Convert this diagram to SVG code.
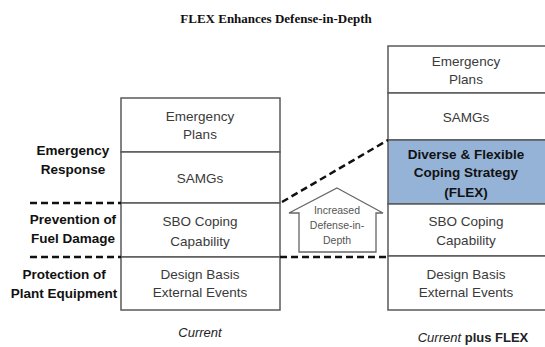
<svg xmlns="http://www.w3.org/2000/svg" width="545" height="347" viewBox="0 0 545 347">
<style>
.box{fill:#fff;stroke:#5a5a5a;stroke-width:1.5}
.flex{fill:#95b3d7;stroke:#5a5a5a;stroke-width:1.5}
.t{font-family:"Liberation Sans",Arial,sans-serif;font-size:13.5px;fill:#3a3a3a;text-anchor:middle}
.b{font-family:"Liberation Sans",Arial,sans-serif;font-size:13.5px;font-weight:bold;fill:#111;text-anchor:middle}
.i{font-family:"Liberation Sans",Arial,sans-serif;font-size:13px;font-style:italic;fill:#222;text-anchor:middle}
.s{font-family:"Liberation Sans",Arial,sans-serif;font-size:10.5px;fill:#555;text-anchor:middle}
.d{stroke:#111;stroke-width:2.5;stroke-dasharray:7,4;fill:none}
</style>
<rect width="545" height="347" fill="#fff"/>
<text x="276" y="23" font-family="Liberation Serif,'Times New Roman',serif" font-size="13" font-weight="bold" fill="#111" text-anchor="middle">FLEX Enhances Defense-in-Depth</text>

<g id="labels">
<text class="b" x="73" y="155">Emergency</text>
<text class="b" x="73" y="174">Response</text>
<text class="b" x="73" y="224">Prevention of</text>
<text class="b" x="73" y="243">Fuel Damage</text>
<text class="b" x="64" y="279">Protection of</text>
<text class="b" x="64" y="298">Plant Equipment</text>
</g>

<g id="current">
<rect class="box" x="121" y="98" width="159" height="54"/>
<text class="t" x="200" y="121">Emergency</text>
<text class="t" x="200" y="139">Plans</text>
<rect class="box" x="121" y="152" width="159" height="51"/>
<text class="t" x="200" y="183">SAMGs</text>
<rect class="box" x="121" y="203" width="159" height="54"/>
<text class="t" x="200" y="226">SBO Coping</text>
<text class="t" x="200" y="246">Capability</text>
<rect class="box" x="121" y="257" width="159" height="53"/>
<text class="t" x="200" y="279">Design Basis</text>
<text class="t" x="200" y="297">External Events</text>
<text class="i" x="200" y="337">Current</text>
</g>

<g id="plusflex">
<rect class="box" x="388" y="46" width="160" height="47"/>
<text class="t" x="466" y="66">Emergency</text>
<text class="t" x="466" y="84">Plans</text>
<rect class="box" x="388" y="93" width="160" height="47"/>
<text class="t" x="466" y="122">SAMGs</text>
<rect class="flex" x="388" y="140" width="160" height="64"/>
<text class="b" x="466" y="159">Diverse &amp; Flexible</text>
<text class="b" x="466" y="177">Coping Strategy</text>
<text class="b" x="466" y="197">(FLEX)</text>
<rect class="box" x="388" y="204" width="160" height="52"/>
<text class="t" x="466" y="226">SBO Coping</text>
<text class="t" x="466" y="245">Capability</text>
<rect class="box" x="388" y="256" width="160" height="54"/>
<text class="t" x="466" y="279">Design Basis</text>
<text class="t" x="466" y="297">External Events</text>
<text class="i" x="473" y="342">Current <tspan font-style="normal" font-weight="bold">plus FLEX</tspan></text>
</g>

<g id="arrow">
<polygon points="337,188 383,213 376,213 376,252 299,252 299,213 289,213" fill="#fff" stroke="#666" stroke-width="1.3"/>
<text class="s" x="337" y="214">Increased</text>
<text class="s" x="337" y="229">Defense-in-</text>
<text class="s" x="337" y="244">Depth</text>
</g>

<g id="connectors">
<line class="d" x1="30" y1="203" x2="121" y2="203"/>
<line class="d" x1="30" y1="257" x2="121" y2="257"/>
<line class="d" x1="282" y1="202" x2="388" y2="140"/>
<line class="d" x1="280" y1="257" x2="388" y2="257"/>
</g>
</svg>
